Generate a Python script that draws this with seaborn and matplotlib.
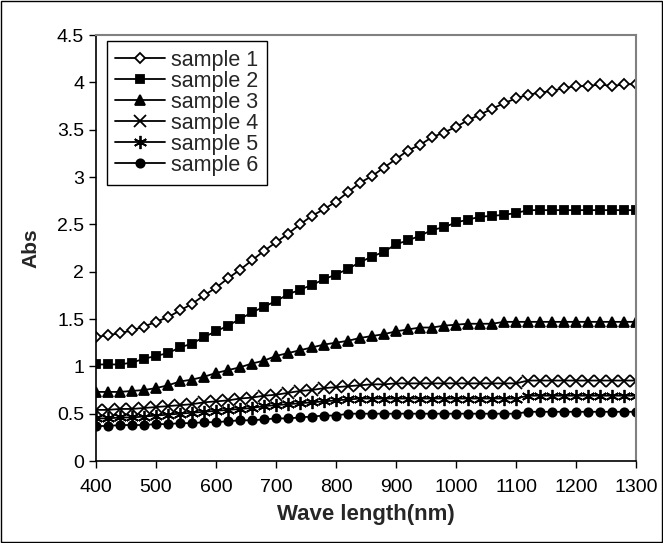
import numpy as np
import pandas as pd
import matplotlib
matplotlib.use("Agg")
import matplotlib.pyplot as plt
from matplotlib.ticker import FuncFormatter, MultipleLocator
from matplotlib.patches import Rectangle
import seaborn as sns

# --- Dados ---
wavelength = [400, 420, 440, 460, 480, 500, 520, 540, 560, 580,
              600, 620, 640, 660, 680, 700, 720, 740, 760, 780,
              800, 820, 840, 860, 880, 900, 920, 940, 960, 980,
              1000, 1020, 1040, 1060, 1080, 1100, 1120, 1140, 1160, 1180,
              1200, 1220, 1240, 1260, 1280, 1300]

sample1 = [1.31, 1.33, 1.35, 1.38, 1.42, 1.47, 1.52, 1.59, 1.66, 1.75,
           1.83, 1.93, 2.02, 2.12, 2.22, 2.31, 2.40, 2.50, 2.59, 2.66,
           2.74, 2.84, 2.94, 3.01, 3.10, 3.19, 3.28, 3.34, 3.42, 3.47,
           3.53, 3.60, 3.66, 3.72, 3.78, 3.83, 3.87, 3.89, 3.91, 3.94,
           3.96, 3.96, 3.98, 3.96, 3.98, 3.98]

sample2 = [1.02, 1.02, 1.02, 1.04, 1.08, 1.11, 1.14, 1.20, 1.24, 1.31,
           1.37, 1.43, 1.50, 1.57, 1.63, 1.69, 1.76, 1.81, 1.86, 1.92,
           1.97, 2.03, 2.10, 2.16, 2.21, 2.29, 2.33, 2.38, 2.44, 2.47,
           2.52, 2.55, 2.58, 2.59, 2.60, 2.62, 2.65, 2.65, 2.65, 2.65,
           2.65, 2.65, 2.65, 2.65, 2.65, 2.65]

sample3 = [0.73, 0.73, 0.73, 0.74, 0.75, 0.77, 0.80, 0.84, 0.86, 0.89,
           0.93, 0.96, 0.99, 1.03, 1.06, 1.11, 1.14, 1.17, 1.20, 1.23,
           1.25, 1.27, 1.30, 1.32, 1.34, 1.37, 1.39, 1.41, 1.41, 1.43,
           1.44, 1.45, 1.45, 1.45, 1.47, 1.47, 1.47, 1.47, 1.47, 1.47,
           1.47, 1.47, 1.47, 1.47, 1.47, 1.47]

sample4 = [0.54, 0.54, 0.55, 0.55, 0.56, 0.57, 0.58, 0.59, 0.60, 0.62,
           0.63, 0.64, 0.66, 0.67, 0.69, 0.70, 0.72, 0.74, 0.75, 0.77,
           0.78, 0.79, 0.80, 0.81, 0.81, 0.82, 0.82, 0.82, 0.82, 0.82,
           0.82, 0.82, 0.82, 0.82, 0.82, 0.82, 0.85, 0.85, 0.85, 0.85,
           0.85, 0.85, 0.85, 0.85, 0.85, 0.85]

sample5 = [0.45, 0.45, 0.46, 0.46, 0.47, 0.48, 0.49, 0.50, 0.51, 0.52,
           0.53, 0.54, 0.55, 0.56, 0.58, 0.59, 0.60, 0.61, 0.62, 0.63,
           0.64, 0.65, 0.66, 0.66, 0.66, 0.66, 0.66, 0.66, 0.66, 0.66,
           0.66, 0.66, 0.66, 0.66, 0.66, 0.66, 0.69, 0.69, 0.69, 0.69,
           0.69, 0.69, 0.69, 0.69, 0.69, 0.69]

sample6 = [0.37, 0.37, 0.38, 0.38, 0.38, 0.39, 0.39, 0.40, 0.40, 0.41,
           0.41, 0.42, 0.43, 0.43, 0.44, 0.45, 0.45, 0.46, 0.47, 0.48,
           0.48, 0.50, 0.50, 0.50, 0.50, 0.50, 0.50, 0.50, 0.50, 0.50,
           0.50, 0.50, 0.50, 0.50, 0.50, 0.50, 0.52, 0.52, 0.52, 0.52,
           0.52, 0.52, 0.52, 0.52, 0.52, 0.52]

labels = ['sample 1', 'sample 2', 'sample 3', 'sample 4', 'sample 5', 'sample 6']
series = [sample1, sample2, sample3, sample4, sample5, sample6]

# estilo de cada série: (marcador, tamanho, cor de preenchimento)
estilos = [
    ('D', 5.0, 'white'),
    ('s', 6.0, 'black'),
    ('^', 6.5, 'black'),
    ('x', 8.0, 'black'),
    ((6, 2, 0), 9.5, 'black'),
    ('o', 6.0, 'black'),
]

sns.set_style("white")
plt.rcParams['font.family'] = ['Liberation Sans', 'DejaVu Sans']

fig = plt.figure(figsize=(6.63, 5.43), dpi=100)
ax = fig.add_axes([0.1448, 0.151, 0.8145, 0.7845])

for nome, valores, (mk, ms, fc) in zip(labels, series, estilos):
    df = pd.DataFrame({'Wave length(nm)': wavelength, 'Abs': valores})
    sns.lineplot(data=df, x='Wave length(nm)', y='Abs', ax=ax, color='black',
                 linewidth=1.3, marker=mk, markersize=ms, mfc=fc, mec='black',
                 mew=1.3, label=nome)

ax.set_xlim(400, 1300)
ax.set_ylim(0, 4.5)
ax.xaxis.set_major_locator(MultipleLocator(100))
ax.yaxis.set_major_locator(MultipleLocator(0.5))
ax.yaxis.set_major_formatter(FuncFormatter(lambda v, p: f'{v:g}'))
ax.tick_params(axis='both', direction='out', length=5, width=1, colors='black',
               labelsize=14, left=True, bottom=True)
ax.tick_params(axis='x', pad=8)

for lado in ['left', 'bottom']:
    ax.spines[lado].set_color('black')
    ax.spines[lado].set_linewidth(1.2)
for lado in ['top', 'right']:
    ax.spines[lado].set_color('#808080')
    ax.spines[lado].set_linewidth(1.5)

ax.set_xlabel('Wave length(nm)', fontsize=16, fontweight='bold', labelpad=6)
ax.set_ylabel('Abs', fontsize=15, fontweight='bold', labelpad=12)

leg = ax.legend(loc='upper left', bbox_to_anchor=(0.02, 0.985), fontsize=15.5,
                frameon=True, fancybox=False, edgecolor='black', framealpha=1,
                handlelength=2.3, handletextpad=0.3, labelspacing=0.0,
                borderpad=0.4, borderaxespad=0)
leg.get_frame().set_linewidth(1.0)

# borda externa do gráfico
fig.patches.append(Rectangle((0.002, 0.002), 0.996, 0.996, transform=fig.transFigure,
                             fill=False, edgecolor='black', linewidth=1.0))

fig.savefig('out.png', dpi=100)
